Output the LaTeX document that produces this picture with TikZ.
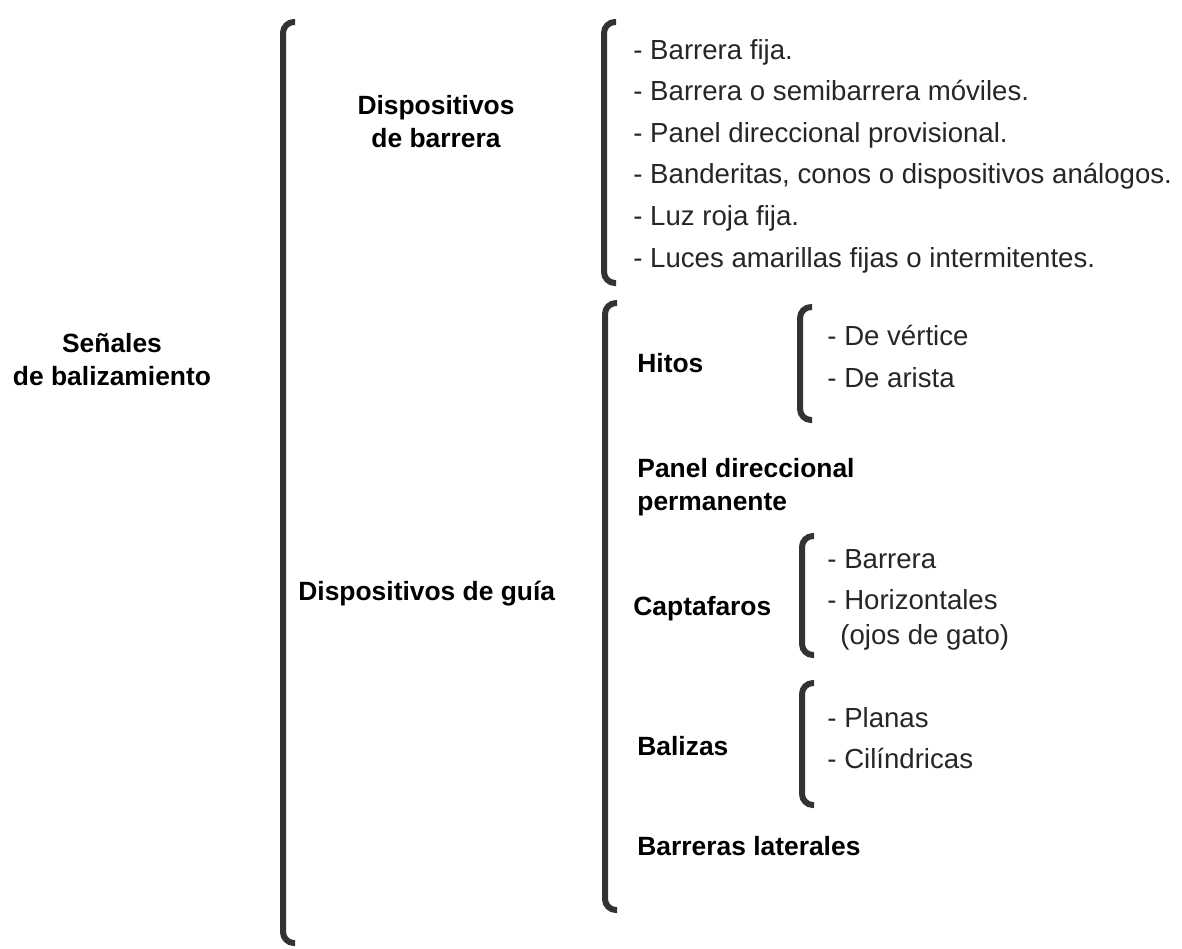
\documentclass[tikz,border=0pt]{standalone}
\usepackage{fontspec}
\setmainfont{Liberation Sans}
\usepackage{tikz}
\usepackage{xcolor}
\usetikzlibrary{positioning}
\definecolor{cBrace}{RGB}{51,51,51}
\definecolor{cItem}{RGB}{38,38,38}
\newcommand{\txtsize}{\fontsize{13.8}{16.5}\selectfont}
\newcommand{\headsize}{\fontsize{13.2}{16.5}\selectfont}
\tikzset{
	brace/.style={draw=cBrace, line width=3pt, rounded corners=5.5pt},
	% headings and list entries
	head/.style ={font=\headsize\bfseries, text=black, inner sep=0pt, anchor=base west},
	item/.style ={font=\txtsize, text=cItem, inner sep=0pt, anchor=base west},
}

\begin{document}
\begin{tikzpicture}[x=0.5pt, y=-0.5pt]
			\useasboundingbox (0,0) rectangle (1182,948);
			% brackets: x, top, bottom
			\foreach \x/\t/\b in {283/22/943, 604/22/283, 605/303/910, 800/307/420, 802/536/655, 802/683/805}
				\draw[brace] ({\x+12},\t) -- (\x,\t) -- (\x,\b) -- ({\x+12},\b);
			% base of a two-line node is the base of its last line
			\node[head, anchor=base, align=center] (senal) at (112,385) {Señales\\de balizamiento};
			\node[head, anchor=base, align=center] (barr) at (436,147) {Dispositivos\\de barrera};
			\node[head] (guia) at (298,600) {Dispositivos de guía};
			\foreach \txt [count=\i from 0] in {Barrera fija., Barrera o semibarrera móviles., Panel direccional provisional., {Banderitas, conos o dispositivos análogos.}, Luz roja fija., Luces amarillas fijas o intermitentes.}
				\node[item] (barr\i) at (633,{59+41.6*\i}) {- \txt};
			\node[head] (hitos) at (637,372) {Hitos};
			\node[item] (hitos0) at (827,345) {- De vértice};
			\node[item] (hitos1) at (827,387) {- De arista};
			\node[head, align=left] (panel) at (637,510) {Panel direccional\\permanente};
			\node[head] (capta) at (633,615) {Captafaros};
			\node[item] (capta0) at (827,568) {- Barrera};
			\node[item] (capta1) at (827,609) {- Horizontales};
			\node[item] (capta2) at (840,644) {(ojos de gato)};
			\node[head] (baliz) at (637,755) {Balizas};
			\node[item] (baliz0) at (827,727) {- Planas};
			\node[item] (baliz1) at (827,768) {- Cilíndricas};
			\node[head] (lat) at (637,855) {Barreras laterales};
		\end{tikzpicture}
\end{document}
